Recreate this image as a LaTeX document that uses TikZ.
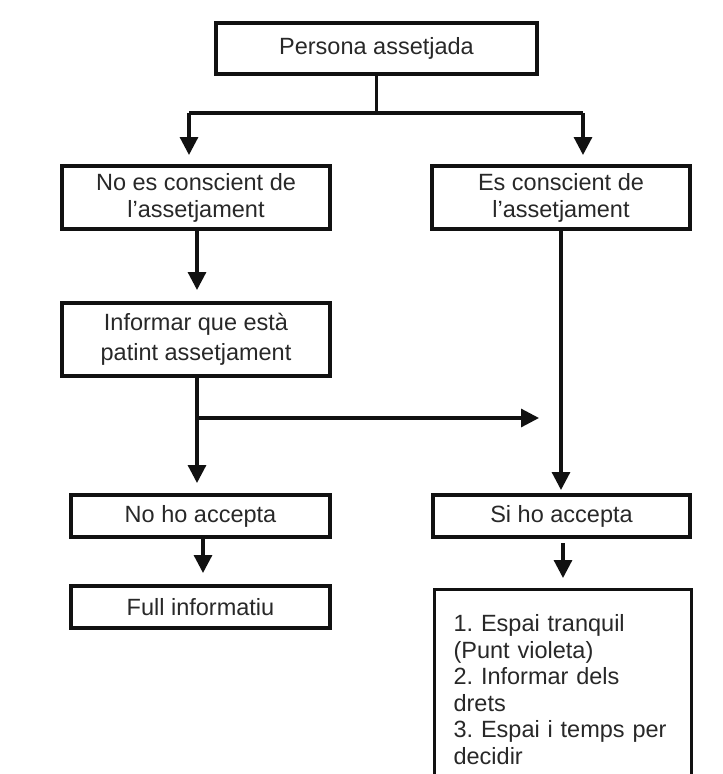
\documentclass[tikz,border=0pt]{standalone}
\usepackage{fontspec}
\setmainfont{Liberation Sans}
\usetikzlibrary{arrows.meta}
\definecolor{txt}{HTML}{282828}
\definecolor{ln}{HTML}{111111}
\frenchspacing
\begin{document}
\begin{tikzpicture}[x=1pt,y=-1pt,
  box/.style={draw=ln, line width=3.2pt, text=txt, font=\fontsize{23.5}{27}\selectfont, align=center, inner sep=0pt},
  conn/.style={draw=ln, line width=3.2pt},
  arr/.style={conn, -{Triangle[width=18pt,length=18pt]}}]
\clip (0,0) rectangle (723,774);
\fill[white] (0,0) rectangle (723,774);
% boxes
\node[box, minimum width=321pt, minimum height=51pt] (top) at (376.5,48.5) {Persona assetjada};
\node[box, minimum width=268pt, minimum height=63pt] (nc) at (196,197.5) {No es conscient de\\l’assetjament};
\node[box, minimum width=258pt, minimum height=63pt] (c) at (561,197.5) {Es conscient de\\l’assetjament};
\node[box, minimum width=268pt, minimum height=73pt, font=\fontsize{23.5}{30}\selectfont] (inf) at (196,339.5) {Informar que està\\patint assetjament};
\node[box, minimum width=259pt, minimum height=42pt] (noacc) at (200.5,516) {No ho accepta};
\node[box, minimum width=257pt, minimum height=42pt] (siacc) at (561.5,516) {Si ho accepta};
\node[box, minimum width=259pt, minimum height=42pt] (full) at (200.5,607) {Full informatiu};
\node[box, anchor=north west, minimum width=257pt, minimum height=200pt, align=left, text width=219pt, inner xsep=19pt, inner ysep=0pt, font=\fontsize{23.5}{26.5}\selectfont] (list) at (433,588)
  {1. Espai tranquil\\(Punt violeta)\\2. Informar dels\\drets\\3. Espai i temps per\\decidir};
% connector points
\coordinate (j) at (376.5,113);
\coordinate (jl) at (189,113);
\coordinate (jr) at (583,113);
\coordinate (jlt) at (189,155);
\coordinate (jrt) at (583,155);
\coordinate (a1) at (197,229);
\coordinate (a1t) at (197,290);
\coordinate (a2) at (197,376);
\coordinate (b) at (197,418);
\coordinate (bt) at (539,418);
\coordinate (a2t) at (197,483);
\coordinate (r1t) at (561,490);
\coordinate (n1) at (203,537);
\coordinate (n1t) at (203,573);
\coordinate (s1) at (563,543);
\coordinate (s1t) at (563,578);
% connectors
\draw[conn] (top.south) -- (j);
\draw[conn] (jl) -- (jr);
\draw[arr] (jl) -- (jlt);
\draw[arr] (jr) -- (jrt);
\draw[arr] (a1) -- (a1t);
\draw[arr] (a2) -- (a2t);
\draw[arr] (b) -- (bt);
\draw[arr] (c.south) -- (r1t);
\draw[arr] (n1) -- (n1t);
\draw[arr] (s1) -- (s1t);
\end{tikzpicture}
\end{document}
